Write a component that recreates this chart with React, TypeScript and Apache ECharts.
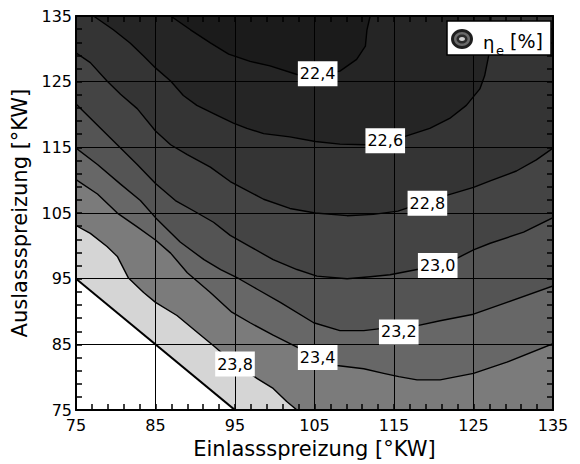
import { useEffect, useRef } from 'react';
import * as echarts from 'echarts';

// Axis extent / ticks
const axisMin = 75;
const axisMax = 135;
const tickStep = 10;
const minorSplits = 5;

// Contour lines [Einlassspreizung, Auslassspreizung]
const contour240: [number, number][] = [[75, 95], [95, 75]];
const contour238: [number, number][] = [[75, 103.1], [76.8, 101.9], [78.9, 99.9], [80.2, 98.4], [81.6, 95.1], [83.5, 92.9], [85.0, 91.4], [87.7, 89.4], [90.2, 86.9], [92.3, 84.8], [95.0, 82.0], [97.8, 79.8], [99.8, 78.3], [101.5, 76.3], [102.8, 75]];
const contour234: [number, number][] = [[75, 110.1], [77.7, 107.9], [80.2, 105.0], [82.7, 102.9], [85.0, 100.9], [86.9, 98.9], [89.0, 95.9], [91.9, 92.9], [94.6, 89.9], [96.9, 88.3], [99.8, 86.4], [102.8, 84.6], [105.4, 83.0], [107.8, 81.8], [111.2, 81.3], [113.7, 80.6], [115.6, 80.1], [117.9, 79.6], [120.8, 79.6], [125.0, 80.6], [129.2, 82.3], [135, 85.1]];
const contour232: [number, number][] = [[75, 114.9], [77.7, 112.4], [80.6, 109.4], [83.1, 106.9], [85.0, 104.3], [88.1, 100.6], [91.1, 97.9], [93.2, 96.4], [95.5, 95.0], [97.8, 93.4], [100.7, 91.4], [104.9, 88.3], [108.2, 87.1], [111.2, 87.1], [113.3, 87.4], [115.6, 87.4], [118.1, 87.9], [120.8, 88.6], [125.0, 89.6], [129.2, 91.4], [135, 93.9]];
const contour230: [number, number][] = [[75, 121.6], [78.5, 117.4], [80.6, 114.9], [82.7, 112.4], [85.0, 109.5], [87.5, 106.9], [90.0, 105.2], [92.3, 103.6], [94.4, 101.6], [96.9, 99.9], [99.8, 97.9], [102.8, 96.4], [105.3, 95.4], [109.1, 95.0], [112.0, 95.3], [114.5, 95.6], [117.9, 96.4], [120.6, 96.9], [122.9, 98.1], [125.0, 99.4], [127.1, 100.4], [131.3, 102.1], [135, 104.3]];
const contour228: [number, number][] = [[75, 129.4], [76.8, 127.9], [78.9, 125.1], [80.6, 123.1], [82.7, 120.9], [85.0, 117.5], [86.9, 115.4], [89.0, 113.9], [91.9, 112.0], [94.4, 109.8], [98.6, 107.1], [101.9, 105.7], [105.1, 105.0], [109.1, 104.6], [112.4, 104.8], [115.5, 105.3], [119.4, 106.9], [125.0, 108.9], [127.1, 109.9], [130.4, 111.4], [132.9, 113.1], [135, 114.9]];
const contour226: [number, number][] = [[77.2, 135], [79.7, 132.9], [81.8, 130.9], [83.5, 128.9], [85.0, 127.1], [86.9, 125.1], [88.5, 122.9], [90.2, 121.4], [92.7, 119.9], [94.8, 118.7], [96.5, 117.9], [98.6, 117.1], [101.9, 116.6], [105.1, 115.9], [108.2, 115.5], [111.4, 115.4], [113.9, 115.8], [116.2, 116.6], [119.5, 117.9], [122.0, 119.4], [124.1, 121.4], [125.8, 123.9], [126.4, 125.9], [126.9, 128.9], [127.1, 132], [127.2, 135]];
const contour224: [number, number][] = [[86.9, 135], [89.4, 132.9], [91.9, 130.9], [94.2, 129.2], [96.9, 128.1], [99.4, 127.4], [102.8, 126.1], [105.4, 126.0], [108.2, 126.6], [110.3, 128.4], [111.4, 130.4], [111.6, 132.9], [112.0, 135]];

// Levels of the drawn contours (region "below level" filled, painted from highest to lowest)
const levels = [24.0, 23.8, 23.4, 23.2, 23.0, 22.8, 22.6, 22.4];
const contours = [contour240, contour238, contour234, contour232, contour230, contour228, contour226, contour224];

// Contour labels
const labelLevels = [22.4, 22.6, 22.8, 23.0, 23.2, 23.4, 23.8];
const labelX = [105.4, 113.9, 119.2, 120.5, 115.6, 105.4, 95.0];
const labelY = [126.2, 116.0, 106.5, 97.0, 86.9, 83.0, 82.0];

// Fill colours of band below each level
const bandColors = ['#d5d5d5', '#7b7b7b', '#676767', '#545454', '#444444', '#343434', '#252525', '#1b1b1b'];

const FONT = 'DejaVu Sans';

function perim(p: [number, number]): number {
  const [x, y] = p;
  const e = 1e-6;
  if (Math.abs(y - axisMin) < e) return x - axisMin;
  if (Math.abs(x - axisMax) < e) return 60 + (y - axisMin);
  if (Math.abs(y - axisMax) < e) return 120 + (axisMax - x);
  return 180 + (axisMax - y);
}

function closeRegion(line: [number, number][]): [number, number][] {
  const s = perim(line[0]);
  const e = perim(line[line.length - 1]);
  let target = s;
  if (target <= e) target += 240;
  const base: [number, number, number][] = [
    [axisMax, axisMin, 60],
    [axisMax, axisMax, 120],
    [axisMin, axisMax, 180],
    [axisMin, axisMin, 240],
  ];
  const corners = [...base, ...base.map((c) => [c[0], c[1], c[2] + 240] as [number, number, number])];
  const pts = line.slice();
  for (const [cx, cy, t] of corners) {
    if (t > e && t < target) pts.push([cx, cy]);
  }
  return pts;
}

export default function App() {
  const ref = useRef<HTMLDivElement>(null);
  useEffect(() => {
    document.body.style.margin = '0';
    if (!ref.current) return;
    const chart = echarts.init(ref.current, undefined, { renderer: 'svg' });
    const regions = contours.map(closeRegion);

    const axisCommon = {
      type: 'value' as const,
      min: axisMin,
      max: axisMax,
      interval: tickStep,
      z: 3,
      axisLine: { show: true, onZero: false, lineStyle: { color: '#000', width: 2 } },
      axisTick: { show: true, inside: true, length: 6, lineStyle: { color: '#000', width: 1.5 } },
      minorTick: { show: true, splitNumber: minorSplits, length: 6, lineStyle: { color: '#000', width: 1.5 } },
    };

    const LZ = 100;

    chart.setOption({
      animation: false,
      backgroundColor: '#fff',
      grid: { left: 76, top: 16, width: 477, height: 399 },
      xAxis: [
        {
          ...axisCommon,
          position: 'bottom',
          splitLine: { show: true, lineStyle: { color: '#000', width: 1 } },
          axisLabel: { show: true, fontSize: 16, fontFamily: FONT, color: '#000', margin: 7 },
          name: 'Einlassspreizung [°KW]',
          nameLocation: 'middle',
          nameGap: 23,
          nameTextStyle: { fontSize: 21, fontFamily: FONT, color: '#000' },
        },
        {
          ...axisCommon,
          position: 'top',
          splitLine: { show: false },
          axisLabel: { show: false },
        },
      ],
      yAxis: [
        {
          ...axisCommon,
          position: 'left',
          splitLine: { show: true, lineStyle: { color: '#000', width: 1 } },
          axisLabel: { show: true, fontSize: 16, fontFamily: FONT, color: '#000', margin: 4 },
          name: 'Auslassspreizung [°KW]',
          nameLocation: 'middle',
          nameGap: 39,
          nameTextStyle: { fontSize: 21, fontFamily: FONT, color: '#000' },
        },
        {
          ...axisCommon,
          position: 'right',
          splitLine: { show: false },
          axisLabel: { show: false },
        },
      ],
      series: [
        {
          type: 'custom',
          coordinateSystem: 'cartesian2d',
          xAxisIndex: 0,
          yAxisIndex: 0,
          z: 1,
          silent: true,
          clip: true,
          data: regions.map((r) => [r[0][0], r[0][1]]),
          renderItem: (params: any, api: any) => {
            const i = params.dataIndex;
            const pts = regions[i].map((p) => api.coord(p));
            return {
              type: 'polygon',
              shape: { points: pts },
              style: { fill: bandColors[i], stroke: null },
            };
          },
        },
        {
          type: 'custom',
          coordinateSystem: 'cartesian2d',
          xAxisIndex: 0,
          yAxisIndex: 0,
          z: 4,
          silent: true,
          clip: true,
          data: contours.map((c) => [c[0][0], c[0][1]]),
          renderItem: (params: any, api: any) => {
            const i = params.dataIndex;
            const pts = contours[i].map((p) => api.coord(p));
            return {
              type: 'polyline',
              shape: { points: pts },
              style: { fill: null, stroke: '#000', lineWidth: levels[i] >= 24 ? 2 : 1.4, lineJoin: 'round' },
            };
          },
        },
        {
          type: 'custom',
          coordinateSystem: 'cartesian2d',
          xAxisIndex: 0,
          yAxisIndex: 0,
          z: 10,
          silent: true,
          data: labelLevels.map((v, i) => [labelX[i], labelY[i], v]),
          renderItem: (params: any, api: any) => {
            const p = api.coord([api.value(0), api.value(1)]);
            const v = api.value(2) as number;
            return {
              type: 'text',
              x: p[0],
              y: p[1],
              z2: 10,
              style: {
                text: v.toFixed(1).replace('.', ','),
                fontSize: 16,
                fontFamily: FONT,
                fill: '#000',
                backgroundColor: '#fff',
                padding: [5, 2, 4, 2],
                align: 'center',
                verticalAlign: 'middle',
              },
            };
          },
        },
      ],
      graphic: [
        { type: 'rect', z: LZ, shape: { x: 447, y: 21, width: 104, height: 34 }, style: { fill: '#fff', stroke: '#000', lineWidth: 1.5 } },
        { type: 'ellipse', z: LZ + 1, shape: { cx: 462, cy: 39, rx: 11, ry: 10 }, style: { fill: '#1e1e1e' } },
        { type: 'ellipse', z: LZ + 2, shape: { cx: 462, cy: 39, rx: 8, ry: 7 }, style: { fill: '#6a6a6a' } },
        { type: 'ellipse', z: LZ + 3, shape: { cx: 462, cy: 39, rx: 5.5, ry: 4.5 }, style: { fill: '#2a2a2a' } },
        { type: 'ellipse', z: LZ + 4, shape: { cx: 462, cy: 39, rx: 3, ry: 2 }, style: { fill: '#d0d0d0' } },
        { type: 'text', z: LZ + 1, x: 483, y: 42, style: { text: 'η', fontSize: 18, fontFamily: FONT, fill: '#000', verticalAlign: 'middle' } },
        { type: 'text', z: LZ + 1, x: 496, y: 50, style: { text: 'e', fontSize: 13, fontFamily: FONT, fill: '#000', verticalAlign: 'middle' } },
        { type: 'text', z: LZ + 1, x: 510, y: 41, style: { text: '[%]', fontSize: 19, fontFamily: FONT, fill: '#000', verticalAlign: 'middle' } },
      ],
    });
    return () => chart.dispose();
  }, []);
  return <div ref={ref} style={{ width: 580, height: 464 }} />;
}
